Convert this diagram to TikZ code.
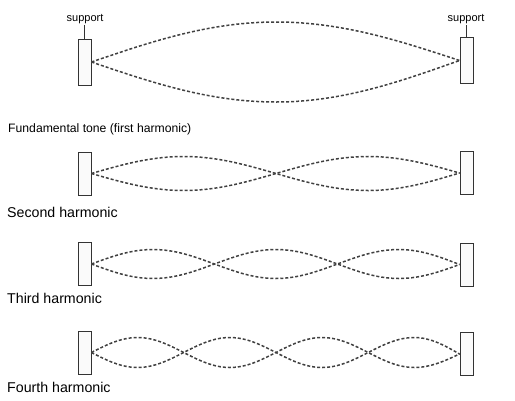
\documentclass[tikz,border=0pt]{standalone}
\usepackage{fontspec}
\setmainfont{Liberation Sans}
\usetikzlibrary{positioning}

\begin{document}
\begin{tikzpicture}[
  x=1pt, y=-1pt,
  post/.style={rectangle, draw=black!80, line width=0.9pt, fill=gray!4,
               minimum width=13pt, minimum height=43pt, inner sep=0pt},
  wave/.style={draw=black!75, line width=1.5pt, dash pattern=on 3pt off 2pt},
  lbl/.style={font=\fontsize{14.2}{16}\selectfont, anchor=west, inner sep=0pt},
  tag/.style={font=\fontsize{11}{13}\selectfont, inner sep=1.5pt},
  tick/.style={draw=black!80, line width=0.8pt}
]
\useasboundingbox (0,0) rectangle (515,400);
%% supports (left column x=84.5, right column x=466.5)
\node[post, minimum height=46pt] (l1) at (84.5,62)  {};
\node[post, minimum height=46pt] (r1) at (466.5,60.5) {};
\node[post] (l2) at (84.5,173.5) {};
\node[post] (r2) at (466.5,173)  {};
\node[post] (l3) at (84.5,264)   {};
\node[post] (r3) at (466.5,264.5) {};
\node[post] (l4) at (84.5,352.5) {};
\node[post] (r4) at (466.5,354)  {};
%% support tags
\node[tag] (s1) at (85,19)  {support};
\node[tag] (s2) at (466,19) {support};
\draw[tick] (l1.north) -- (l1.north |- s1.south);
\draw[tick] (r1.north) -- (r1.north |- s2.south);
%% captions
\node[lbl, font=\fontsize{12.2}{14}\selectfont] (t1) at (8,129) {Fundamental tone (first harmonic)};
\node[lbl] (t2) at (7,212) {Second harmonic};
\node[lbl] (t3) at (7,298) {Third harmonic};
\node[lbl] (t4) at (7,387) {Fourth harmonic};
%% fundamental
\draw[wave] (l1.east) sin ++(184.5,-40) cos (r1.west);
\draw[wave] (l1.east) sin ++(184.5,40)  cos (r1.west);
%% second harmonic
\draw[wave] (l2.east) sin ++(92.25,-17) cos ++(92.25,17)
    sin ++(92.25,17) cos (r2.west);
\draw[wave] (l2.east) sin ++(92.25,17) cos ++(92.25,-17)
    sin ++(92.25,-17) cos (r2.west);
%% third harmonic
\draw[wave] (l3.east) sin ++(61.5,-14.5) cos ++(61.5,14.5)
    sin ++(61.5,14.5) cos ++(61.5,-14.5)
    sin ++(61.5,-14.5) cos (r3.west);
\draw[wave] (l3.east) sin ++(61.5,14.5) cos ++(61.5,-14.5)
    sin ++(61.5,-14.5) cos ++(61.5,14.5)
    sin ++(61.5,14.5) cos (r3.west);
%% fourth harmonic
\draw[wave] (l4.east) sin ++(46.125,-15) cos ++(46.125,15)
    sin ++(46.125,15) cos ++(46.125,-15)
    sin ++(46.125,-15) cos ++(46.125,15)
    sin ++(46.125,15) cos (r4.west);
\draw[wave] (l4.east) sin ++(46.125,15) cos ++(46.125,-15)
    sin ++(46.125,-15) cos ++(46.125,15)
    sin ++(46.125,15) cos ++(46.125,-15)
    sin ++(46.125,-15) cos (r4.west);
\end{tikzpicture}
\end{document}
